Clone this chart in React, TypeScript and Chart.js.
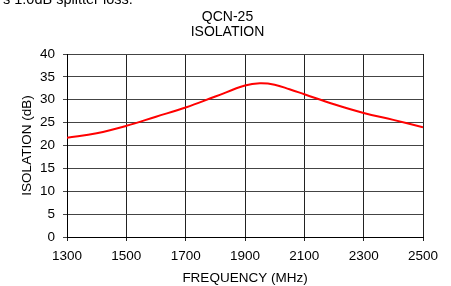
import React, { useEffect, useRef } from "react";
import { Chart, registerables } from "chart.js";

Chart.register(...registerables);

const frequencies = [1300, 1400, 1500, 1600, 1700, 1800, 1900, 1950, 2000, 2050, 2100, 2200, 2300, 2400, 2500];
const isolation = [21.7, 22.7, 24.3, 26.3, 28.3, 30.7, 33.1, 33.6, 33.3, 32.3, 31.2, 29.0, 27.1, 25.6, 24.0];
const titleLines = ["QCN-25", "ISOLATION"];
const xTitle = "FREQUENCY (MHz)";
const yTitle = "ISOLATION (dB)";
const note = "s 1.0dB splitter loss.";

const FONT = "'Liberation Sans', Arial, sans-serif";

const titlePlugin = {
  id: "centeredTitle",
  afterDraw(chart: any) {
    const ctx = chart.ctx;
    ctx.save();
    ctx.fillStyle = "#000";
    ctx.font = `14px ${FONT}`;
    ctx.textAlign = "center";
    ctx.textBaseline = "middle";
    const cx = 227.5;
    ctx.fillText(titleLines[0], cx, 17);
    ctx.fillText(titleLines[1], cx, 32.5);
    ctx.restore();
  },
};

export default function App() {
  const ref = useRef<HTMLCanvasElement | null>(null);
  useEffect(() => {
    if (!ref.current) return;
    const chart = new Chart(ref.current, {
      type: "line",
      data: {
        datasets: [
          {
            data: frequencies.map((f, i) => ({ x: f, y: isolation[i] })),
            borderColor: "#ff0000",
            borderWidth: 2,
            pointRadius: 0,
            tension: 0.4,
            fill: false,
          },
        ],
      },
      options: {
        responsive: false,
        animation: false,
        layout: { padding: { left: 0, right: 28, top: 54, bottom: 0 } },
        plugins: {
          legend: { display: false },
          tooltip: { enabled: false },
          title: { display: false },
        },
        scales: {
          x: {
            type: "linear",
            min: 1300,
            max: 2500,
            afterFit: (s: any) => {
              s.height = 49;
            },
            ticks: {
              stepSize: 200,
              autoSkip: false,
              maxRotation: 0,
              color: "#000",
              padding: 7,
              font: { family: FONT, size: 13.5 },
              callback: (v: any) => String(v),
            },
            grid: { color: "#222", lineWidth: 1, tickLength: 4, drawTicks: true },
            border: { color: "#000", width: 1 },
            title: {
              display: true,
              text: xTitle,
              color: "#000",
              font: { family: FONT, size: 13.5, lineHeight: 1.2 },
              padding: { top: 8, bottom: 0 },
            },
          },
          y: {
            min: 0,
            max: 40,
            afterFit: (s: any) => {
              s.width = 67;
            },
            ticks: {
              stepSize: 5,
              color: "#000",
              padding: 8,
              font: { family: FONT, size: 13.5 },
            },
            grid: { color: "#444", lineWidth: 1, tickLength: 4, drawTicks: true },
            border: { color: "#000", width: 1 },
            title: {
              display: true,
              text: yTitle,
              color: "#000",
              font: { family: FONT, size: 13.5, lineHeight: 1.2 },
              padding: { top: 19, bottom: 0 },
            },
          },
        },
      },
      plugins: [titlePlugin],
    });
    return () => chart.destroy();
  }, []);
  return (
    <div style={{ position: "fixed", left: 0, top: 0, width: 451, height: 286, background: "#fff", overflow: "hidden" }}>
      <canvas ref={ref} width={451} height={286} style={{ position: "absolute", left: 0, top: 0 }} />
      <div
        style={{
          position: "absolute",
          left: 3,
          top: -9,
          fontFamily: FONT,
          fontSize: 14.5,
          color: "#000",
          whiteSpace: "nowrap",
        }}
      >
        {note}
      </div>
    </div>
  );
}
